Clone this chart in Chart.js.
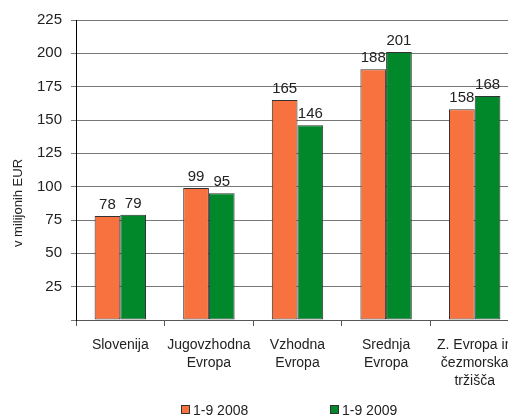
<!DOCTYPE html>
<html>
<head>
<meta charset="utf-8">
<script src="https://cdn.jsdelivr.net/npm/chart.js@4/dist/chart.umd.min.js"></script>
<style>
  html, body { margin: 0; padding: 0; background: #fff; overflow: hidden; }
  #wrap { position: relative; width: 540px; height: 416px; }
  .leg { position: absolute; top: 402px; font: 14px 'Liberation Sans', Arial, sans-serif; color: #222; line-height: 16px; white-space: nowrap; }
  .leg i { display: inline-block; width: 7px; height: 7px; border: 1px solid #333; margin-right: 3px; vertical-align: 1px; }
</style>
</head>
<body>
<div id="wrap">
  <canvas id="c" width="540" height="416"></canvas>
  <div class="leg" style="left:181px"><i style="background:#F7723F"></i>1-9 2008</div>
  <div class="leg" style="left:330px"><i style="background:#00882B"></i>1-9 2009</div>
</div>
<script>
  const categories = [
    'Slovenija',
    ['Jugovzhodna', 'Evropa'],
    ['Vzhodna', 'Evropa'],
    ['Srednja', 'Evropa'],
    ['Z. Evropa in', 'čezmorska', 'tržišča']
  ];
  const series2008 = [78, 99, 165, 188, 158];
  const series2009 = [79, 95, 146, 201, 168];
  const yMax = 225;
  const yStep = 25;

  Chart.defaults.font.family = "'Liberation Sans', Arial, sans-serif";
  Chart.defaults.font.size = 14;
  Chart.defaults.color = '#222';

  // labels above bars
  const valueLabels = {
    id: 'valueLabels',
    afterDatasetsDraw(chart) {
      const ctx = chart.ctx;
      ctx.save();
      ctx.font = "15px 'Liberation Sans', Arial, sans-serif";
      ctx.fillStyle = '#222';
      ctx.textAlign = 'center';
      ctx.textBaseline = 'alphabetic';
      chart.data.datasets.forEach((ds, i) => {
        chart.getDatasetMeta(i).data.forEach((bar, j) => {
          ctx.fillText(ds.data[j], bar.x, bar.y - 7);
        });
      });
      ctx.restore();
    }
  };

  // rotated y axis title, sits a bit lower than the axis middle
  const axisTitle = {
    id: 'axisTitle',
    afterDraw(chart) {
      const ctx = chart.ctx;
      ctx.save();
      ctx.translate(18, 203);
      ctx.rotate(-Math.PI / 2);
      ctx.font = "13px 'Liberation Sans', Arial, sans-serif";
      ctx.fillStyle = '#222';
      ctx.textAlign = 'center';
      ctx.textBaseline = 'middle';
      ctx.fillText('v milijonih EUR', 0, 0);
      ctx.restore();
    }
  };

  new Chart(document.getElementById('c'), {
    type: 'bar',
    data: {
      labels: categories,
      datasets: [
        { label: '1-9 2008', data: series2008, backgroundColor: '#F7723F', borderColor: '#333', borderWidth: 1, borderSkipped: false },
        { label: '1-9 2009', data: series2009, backgroundColor: '#00882B', borderColor: '#333', borderWidth: 1, borderSkipped: false }
      ]
    },
    options: {
      responsive: false,
      animation: false,
      categoryPercentage: 0.58,
      barPercentage: 1,
      layout: { padding: { top: 20, right: 21, bottom: 0, left: 0 } },
      plugins: { legend: { display: false }, tooltip: { enabled: false } },
      scales: {
        x: {
          grid: { offset: true, drawOnChartArea: false, drawTicks: true, tickLength: 6, color: '#555' },
          border: { color: '#555' },
          ticks: { padding: 10, maxRotation: 0, autoSkip: false, font: { size: 14, lineHeight: 1.3 } },
          afterFit(s) { s.height = 96; }
        },
        y: {
          min: 0,
          max: yMax,
          grid: { color: '#777', tickLength: 5 },
          border: { color: '#000' },
          ticks: { stepSize: yStep, padding: 9, font: { size: 15 }, callback: v => v === 0 ? '' : v },
          afterFit(s) { s.width = 76; }
        }
      }
    },
    plugins: [valueLabels, axisTitle]
  });
</script>
</body>
</html>
